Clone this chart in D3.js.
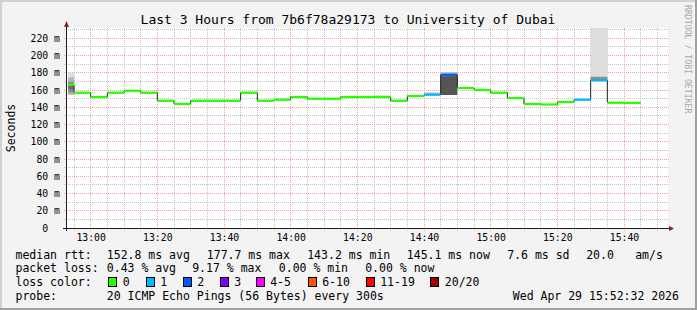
<!DOCTYPE html>
<html><head><meta charset="utf-8">
<script src="https://cdn.jsdelivr.net/npm/d3@7"></script>
<style>
html,body{margin:0;padding:0;background:#f3f3f3;}
svg{display:block;}
text{font-family:"DejaVu Sans Mono",monospace;fill:#000;}
</style>
</head><body>
<svg id="chart" width="697" height="310"></svg>
<script>
// ---------------- data ----------------
const titleText = "Last 3 Hours from 7b6f78a29173 to University of Dubai";
const intervalStart = ["12:50","12:55","13:00","13:05","13:10","13:15","13:20","13:25","13:30","13:35",
  "13:40","13:45","13:50","13:55","14:00","14:05","14:10","14:15","14:20","14:25",
  "14:30","14:35","14:40","14:45","14:50","14:55","15:00","15:05","15:10","15:15",
  "15:20","15:25","15:30","15:35","15:40"];
const medianMs = [166.0,156.9,151.9,156.9,159.2,156.9,147.6,143.8,147.6,147.6,
  147.6,156.9,147.6,148.8,151.9,149.9,149.9,151.9,151.9,151.9,
  147.6,153.0,154.6,177.7,162.3,160.0,156.9,150.7,143.8,143.2,
  146.1,148.8,171.2,145.3,145.1];
const lossCount = [0,0,0,0,0,0,0,0,0,0,
  0,0,0,0,0,0,0,0,0,0,
  0,0,1,2,0,0,0,0,0,0,
  0,1,1,0,0];
// smoke (ping spread) bands: interval, low, high, density of pings
const smokeStart   = ["12:50","12:50","12:50","12:50","14:25","14:40","14:45","14:45","15:30","15:30"];
const smokeLow     = [154.0,154.5,157.0,160.8,152.2,154.6,154.2,176.2,175.5,171.0];
const smokeHigh    = [180.0,174.7,169.6,164.5,153.8,157.0,176.2,180.6,260.0,175.5];
const smokeDensity = [1,2,3,4,1,2,5,2,1,3];

const yTickValues = [0,20,40,60,80,100,120,140,160,180,200,220];
const lossLabels = ["0","1","2","3","4-5","6-10","11-19","20/20"];
const lossColors = ["#26ff00","#00b8ff","#0059ff","#7e00ff","#ff00ff","#ff5500","#ff0000","#a10000"];
const legendRtt  = ["median rtt:","152.8 ms avg","177.7 ms max","143.2 ms min","145.1 ms now","7.6 ms sd","20.0","am/s"];
const legendLoss = ["packet loss:","0.43 % avg","9.17 % max","0.00 % min","0.00 % now"];
const legendProbe = ["probe:","20 ICMP Echo Pings (56 Bytes) every 300s","Wed Apr 29 15:52:32 2026"];

// ---------------- layout ----------------
const W = 697, H = 310;
const L = 67, R = 667, T = 28, B = 228;
const day = (hm) => { const [h,m] = hm.split(":").map(Number); return new Date(2026,3,29,h,m,0); };
const tStart = new Date(2026,3,29,12,52,54), tEnd = new Date(2026,3,29,15,52,54);
const step = 5*60*1000;

const svg = d3.select("#chart");
const x = d3.scaleTime().domain([tStart,tEnd]).range([L,R]);
const y = d3.scaleLinear().domain([0,231.9]).range([B,T]);
const px = v => Math.floor(v)+0.5;

// background & border
svg.append("rect").attr("width",W).attr("height",H).attr("fill","#f3f3f3");
svg.append("rect").attr("x",0).attr("y",0).attr("width",W).attr("height",2).attr("fill","#d0d0d0");
svg.append("rect").attr("x",0).attr("y",0).attr("width",2).attr("height",H).attr("fill","#d0d0d0");
svg.append("rect").attr("x",W-2).attr("y",0).attr("width",2).attr("height",H).attr("fill","#a0a0a0");
svg.append("rect").attr("x",0).attr("y",H-2).attr("width",W).attr("height",2).attr("fill","#a0a0a0");

// plot canvas
svg.append("rect").attr("x",L).attr("y",T).attr("width",R-L+1).attr("height",B-T).attr("fill","#ffffff");

// grid
const g = svg.append("g");
const minorX = d3.timeMinute.every(5).range(tStart,tEnd);
const majorX = d3.timeMinute.every(20).range(tStart,tEnd);
const majorKeys = new Set(majorX.map(d=>+d));
g.selectAll("line.vx").data(minorX.filter(d=>!majorKeys.has(+d))).join("line")
  .attr("x1",d=>px(x(d))).attr("x2",d=>px(x(d))).attr("y1",T).attr("y2",B+3)
  .attr("stroke","#c4c4c4").attr("stroke-dasharray","1,1");
const minorY = d3.range(10,232,10).filter(v=>v%20!==0);
g.selectAll("line.hy").data(minorY).join("line")
  .attr("x1",L-3).attr("x2",R+2).attr("y1",d=>px(y(d))).attr("y2",d=>px(y(d)))
  .attr("stroke","#c4c4c4").attr("stroke-dasharray","1,1");
g.selectAll("line.vX").data(majorX).join("line")
  .attr("x1",d=>px(x(d))).attr("x2",d=>px(x(d))).attr("y1",T).attr("y2",B+3)
  .attr("stroke","#f5a0a0").attr("stroke-dasharray","1,1");
g.selectAll("line.hY").data(yTickValues.filter(v=>v>0)).join("line")
  .attr("x1",L-3).attr("x2",R+2).attr("y1",d=>px(y(d))).attr("y2",d=>px(y(d)))
  .attr("stroke","#f5a0a0").attr("stroke-dasharray","1,1");

// clip
svg.append("clipPath").attr("id","clip").append("rect")
  .attr("x",L+1).attr("y",T).attr("width",R-L).attr("height",B-T);
const plot = svg.append("g").attr("clip-path","url(#clip)");

// smoke
const shade = ["#ffffff","#dddddd","#b8b8b8","#8f8f8f","#6c6c6c","#555555"];
const smoke = smokeStart.map((s,i)=>({t:day(s),lo:smokeLow[i],hi:smokeHigh[i],d:smokeDensity[i]}));
plot.selectAll("rect.smoke").data(smoke).join("rect")
  .attr("x",d=>x(d.t)).attr("width",d=>x(new Date(+d.t+step))-x(d.t))
  .attr("y",d=>y(d.hi)).attr("height",d=>y(d.lo)-y(d.hi))
  .attr("fill",d=>shade[d.d]);

// median line
const pts = intervalStart.map((s,i)=>({t:day(s),m:medianMs[i],l:lossCount[i]}));
const linePts = pts.concat([{t:new Date(+pts[pts.length-1].t+step),m:pts[pts.length-1].m}]);
plot.append("path").datum(linePts)
  .attr("d",d3.line().x(d=>x(d.t)).y(d=>y(d.m)).curve(d3.curveStepAfter))
  .attr("fill","none").attr("stroke","#202020").attr("stroke-width",1);

const lossIdx = l => l===0?0:l===1?1:l===2?2:l===3?3:l<=5?4:l<=10?5:l<=19?6:7;
plot.selectAll("rect.med").data(pts).join("rect")
  .attr("x",d=>x(d.t)).attr("width",d=>x(new Date(+d.t+step))-x(d.t))
  .attr("y",d=>y(d.m)-1.1).attr("height",2.2)
  .attr("fill",d=>lossColors[lossIdx(d.l)]);

// axes
svg.append("line").attr("x1",L-4).attr("x2",R+3).attr("y1",B+0.5).attr("y2",B+0.5).attr("stroke","#1a1a1a");
svg.append("line").attr("x1",L-0.5).attr("x2",L-0.5).attr("y1",B+3).attr("y2",T-4).attr("stroke","#1a1a1a");
svg.append("path").attr("d",`M${L-3},${T-1} L${L+2},${T-1} L${L-0.5},${T-7} Z`).attr("fill","#8e1c1c");
svg.append("path").attr("d",`M${R+2},${B-2} L${R+2},${B+3} L${R+7},${B+0.5} Z`).attr("fill","#8e1c1c");

// axis labels
const axFont = 9.8, adv = axFont*0.602;
svg.append("g").selectAll("text").data(majorX).join("text")
  .attr("x",d=>x(d)+0.5).attr("y",B+12.8).attr("text-anchor","middle")
  .attr("font-size",axFont).text(d3.timeFormat("%H:%M"));
svg.append("g").selectAll("text").data(yTickValues).join("text")
  .attr("x",d=>d===0?60-2*adv:60).attr("y",d=>y(d)+3.6).attr("text-anchor","end")
  .attr("font-size",axFont).text(d=>d===0?"0":d+" m");

// title, y label, watermark
svg.append("text").attr("x",348).attr("y",24).attr("text-anchor","middle").attr("font-size",13).text(titleText);
svg.append("text").attr("transform","translate(15,128) rotate(-90)").attr("text-anchor","middle")
  .attr("font-size",11.5).text("Seconds");
svg.append("text").attr("transform","translate(684.5,5) rotate(90)").attr("font-size",8.2)
  .style("fill","#a8a8a8").text("RRDTOOL / TOBI OETIKER");

// legend
const lf = 11.5;
const lg = svg.append("g").attr("font-size",lf).attr("xml:space","preserve");
const rttX = [16,107.3,207.3,307.7,407.3,507.7,586.7,635.7];
legendRtt.forEach((s,i)=>lg.append("text").attr("x",rttX[i]-0.5).attr("y",258.5).text(s));
const lossX = [16,107.3,192.7,279.3,365.7];
legendLoss.forEach((s,i)=>lg.append("text").attr("x",lossX[i]-0.5).attr("y",272).text(s));
lg.append("text").attr("x",15.5).attr("y",285.5).text("loss color:");
const boxX = [108.3,145.7,182.7,219.7,255.7,307.7,365.7,430.3];
lossLabels.forEach((s,i)=>{
  lg.append("rect").attr("x",Math.round(boxX[i])+0.5).attr("y",277.5).attr("width",8).attr("height",9)
    .attr("fill",lossColors[i]).attr("stroke","#000");
  lg.append("text").attr("x",boxX[i]+14.5).attr("y",285.5).text(s);
});
const probeX = [16,107.3,513.3];
legendProbe.forEach((s,i)=>lg.append("text").attr("x",probeX[i]-0.5).attr("y",299.5).text(s));
</script>
</body></html>
